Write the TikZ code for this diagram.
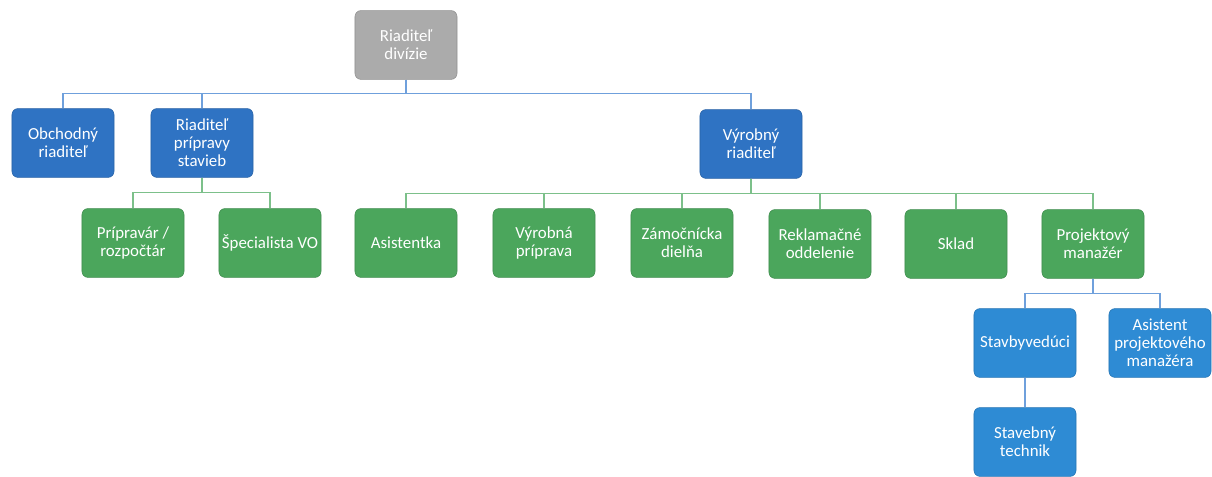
\documentclass[tikz,border=0pt]{standalone}
\usepackage{fontspec}
\setmainfont{Carlito}
\usetikzlibrary{positioning}
\definecolor{grayfill}{HTML}{ABABAB}
\definecolor{bluetop}{HTML}{2F73C3}
\definecolor{bluelow}{HTML}{2E8BD4}
\definecolor{greenfill}{HTML}{4BA65C}
\definecolor{blueline}{HTML}{6FA0DC}
\definecolor{greenline}{HTML}{7CC08A}
\tikzset{
  box/.style={rounded corners=0.15cm, minimum width=2.55cm, minimum height=1.72cm,
    align=center, text=white, inner sep=1pt,
    font=\fontsize{12}{12.8}\selectfont},
  graybox/.style={box, fill=grayfill, draw=grayfill!85!black},
  topbox/.style={box, fill=bluetop, draw=bluetop!85!black},
  lowbox/.style={box, fill=bluelow, draw=bluelow!85!black},
  greenbox/.style={box, fill=greenfill, draw=greenfill!85!black},
  bline/.style={blueline, line width=1.1pt},
  gline/.style={greenline, line width=1.1pt}
}
\begin{document}
\begin{tikzpicture}[x=0.025cm, y=-0.025cm]
    \useasboundingbox (0, 0) rectangle (1212, 477);

    \node [graybox] (div) at (406, 45) {Riaditeľ\\divízie};

    \node [topbox] (obch) at (63, 143) {Obchodný\\riaditeľ};
    \node [topbox] (prip) at (202, 143) {Riaditeľ\\prípravy\\stavieb};
    \node [topbox] (vyr) at (751, 144) {Výrobný\\riaditeľ};

    \node [greenbox] (rozp) at (133, 243) {Prípravár /\\rozpočtár};
    \node [greenbox] (spec) at (270, 243) {Špecialista VO};
    \node [greenbox] (asis) at (406, 243) {Asistentka};
    \node [greenbox] (vpri) at (544, 243) {Výrobná\\príprava};
    \node [greenbox] (zamo) at (682, 243) {Zámočnícka\\dielňa};
    \node [greenbox] (rekl) at (820, 244) {Reklamačné\\oddelenie};
    \node [greenbox] (skla) at (956, 244) {Sklad};
    \node [greenbox] (pman) at (1093, 244) {Projektový\\manažér};

    \node [lowbox] (stav) at (1025, 343) {Stavbyvedúci};
    \node [lowbox] (apm) at (1160, 343) {Asistent\\projektového\\manažéra};
    \node [lowbox] (tech) at (1025, 442) {Stavebný\\technik};

    % riaditel divizie
    \foreach \n in {obch, prip, vyr}
      \draw [bline] (div.south) -- ++(0, 14) -| (\n.north);
    % priprava stavieb
    \foreach \n in {rozp, spec}
      \draw [gline] (prip.south) -- ++(0, 15) -| (\n.north);
    % vyrobny riaditel
    \foreach \n in {asis, vpri, zamo, rekl, skla, pman}
      \draw [gline] (vyr.south) -- ++(0, 15) -| (\n.north);
    % projektovy manazer
    \foreach \n in {stav, apm}
      \draw [bline] (pman.south) -- ++(0, 15) -| (\n.north);
    \draw [bline] (stav.south) -- (tech.north);
\end{tikzpicture}
\end{document}
